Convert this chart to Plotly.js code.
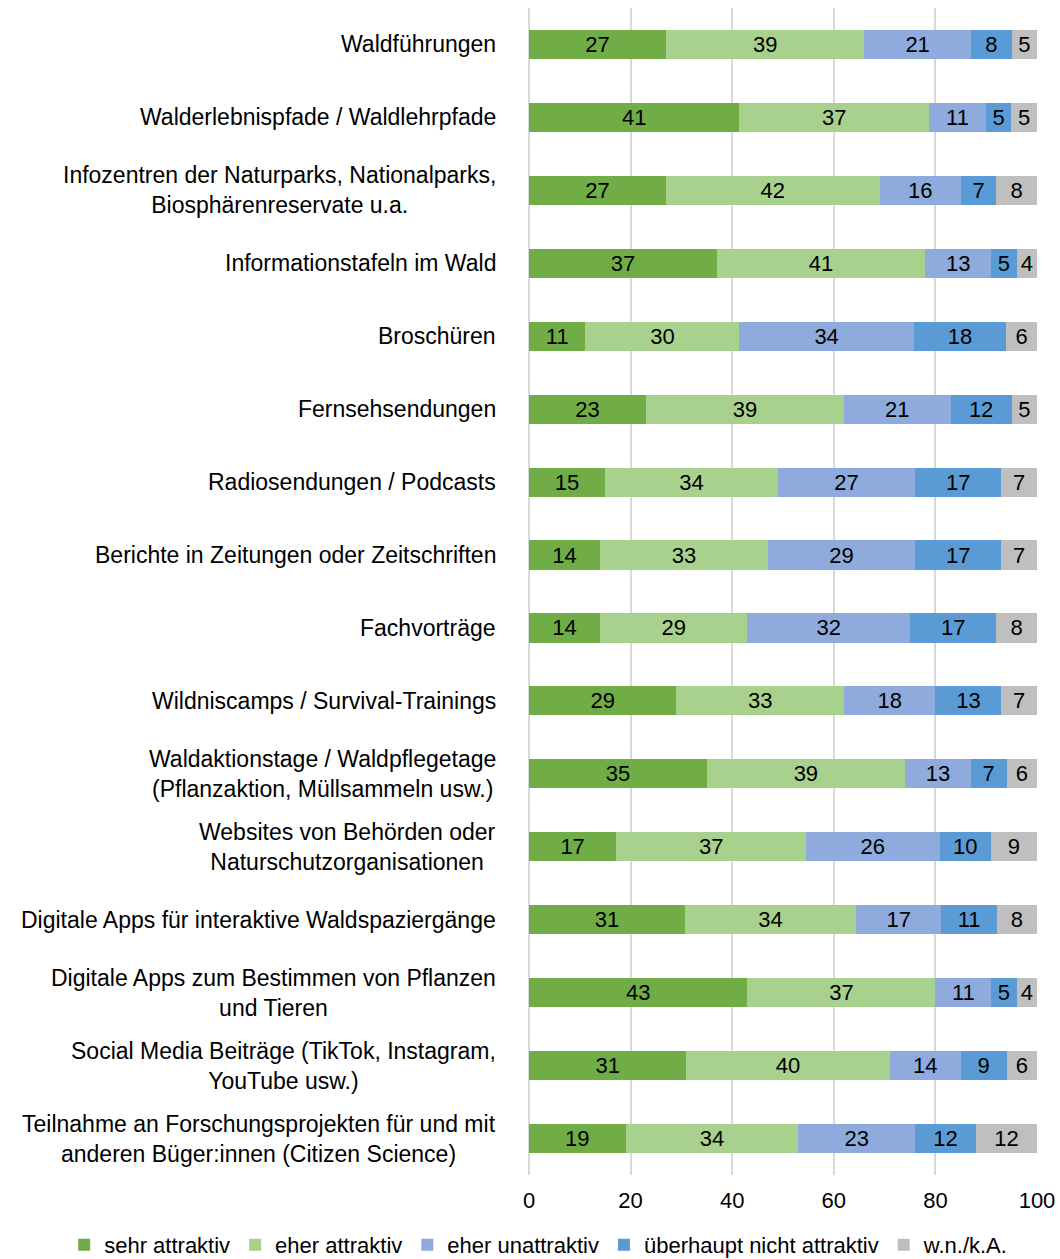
<!DOCTYPE html>
<html>
<head>
<meta charset="utf-8">
<script src="https://cdn.plot.ly/plotly-3.0.1.min.js"></script>
<style>
html,body{margin:0;padding:0;background:#fff;}
#chart{width:1060px;height:1259px;}
</style>
</head>
<body>
<div id="chart"></div>
<script>
const categories = [
  "Waldführungen",
  "Walderlebnispfade / Waldlehrpfade",
  "Infozentren der Naturparks, Nationalparks,<br>Biosphärenreservate u.a.",
  "Informationstafeln im Wald",
  "Broschüren",
  "Fernsehsendungen",
  "Radiosendungen / Podcasts",
  "Berichte in Zeitungen oder Zeitschriften",
  "Fachvorträge",
  "Wildniscamps / Survival-Trainings",
  "Waldaktionstage / Waldpflegetage<br>(Pflanzaktion, Müllsammeln usw.)",
  "Websites von Behörden oder<br>Naturschutzorganisationen",
  "Digitale Apps für interaktive Waldspaziergänge",
  "Digitale Apps zum Bestimmen von Pflanzen<br>und Tieren",
  "Social Media Beiträge (TikTok, Instagram,<br>YouTube usw.)",
  "Teilnahme an Forschungsprojekten für und mit<br>anderen Büger:innen (Citizen Science)"
];
const seriesNames = ["sehr attraktiv", "eher attraktiv", "eher unattraktiv", "überhaupt nicht attraktiv", "w.n./k.A."];
const sehrAttraktiv     = [27, 41, 27, 37, 11, 23, 15, 14, 14, 29, 35, 17, 31, 43, 31, 19];
const eherAttraktiv     = [39, 37, 42, 41, 30, 39, 34, 33, 29, 33, 39, 37, 34, 37, 40, 34];
const eherUnattraktiv   = [21, 11, 16, 13, 34, 21, 27, 29, 32, 18, 13, 26, 17, 11, 14, 23];
const ueberhauptNicht   = [ 8,  5,  7,  5, 18, 12, 17, 17, 17, 13,  7, 10, 11,  5,  9, 12];
const wnKA              = [ 5,  5,  8,  4,  6,  5,  7,  7,  8,  7,  6,  9,  8,  4,  6, 12];
const tickValues = [0, 20, 40, 60, 80, 100];

const seriesValues = [sehrAttraktiv, eherAttraktiv, eherUnattraktiv, ueberhauptNicht, wnKA];
const colors = ["#70AD47", "#A9D18E", "#8FAADC", "#5B9BD5", "#BFBFBF"];
const FONT = "Liberation Sans, Arial, sans-serif";

const traces = seriesValues.map((vals, i) => ({
  type: "bar",
  orientation: "h",
  name: seriesNames[i],
  y: categories,
  x: vals,
  text: vals.map(String),
  texttemplate: "%{text}",
  textposition: "inside",
  insidetextanchor: "middle",
  constraintext: "none",
  textangle: 0,
  textfont: {family: FONT, size: 22, color: "#000"},
  marker: {color: colors[i], line: {width: 0}},
  hoverinfo: "skip"
}));

const annotations = categories.map(c => ({
  xref: "paper", yref: "y",
  x: 0, y: c,
  xanchor: "right", yanchor: "middle",
  xshift: -31,
  align: "center",
  text: c,
  showarrow: false,
  font: {family: FONT, size: 23, color: "#000"}
}));

const layout = {
  width: 1060, height: 1259,
  margin: {l: 529, r: 23, t: 8, b: 84, autoexpand: false},
  paper_bgcolor: "#fff", plot_bgcolor: "#fff",
  barmode: "stack",
  barnorm: "percent",
  bargap: 0.6,
  showlegend: true,
  legend: {
    orientation: "h",
    xref: "paper", yref: "paper",
    x: -0.915, xanchor: "left",
    y: -0.06, yanchor: "middle",
    font: {family: FONT, size: 22, color: "#000"},
    traceorder: "normal",
    itemclick: false
  },
  font: {family: FONT, size: 22, color: "#000"},
  xaxis: {
    range: [0, 100],
    tickvals: tickValues,
    ticktext: tickValues.map(String),
    showgrid: true,
    gridcolor: "#D9D9D9",
    gridwidth: 2,
    zeroline: true,
    zerolinecolor: "#D9D9D9",
    zerolinewidth: 2,
    showline: false,
    ticks: "",
    ticklabelstandoff: 10,
    tickfont: {family: FONT, size: 22, color: "#000"}
  },
  yaxis: {
    autorange: "reversed",
    showticklabels: false,
    showgrid: false,
    zeroline: false,
    showline: false,
    ticks: ""
  },
  annotations: annotations
};

Plotly.newPlot("chart", traces, layout, {displayModeBar: false, staticPlot: true});
</script>
</body>
</html>
